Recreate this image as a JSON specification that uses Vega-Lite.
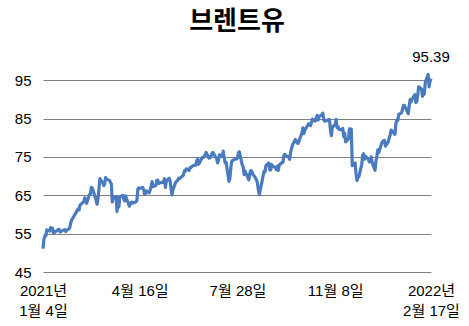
{
  "$schema": "https://vega.github.io/schema/vega-lite/v6.json",
  "width": 388,
  "height": 211,
  "autosize": "none",
  "padding": {"left": 43, "top": 61, "right": 38, "bottom": 54},
  "background": "white",
  "title": {"text": "브렌트유", "font": "Noto Sans CJK KR", "fontSize": 26, "fontWeight": "bold", "color": "#000", "anchor": "middle", "frame": "group", "offset": 15},
  "config": {"view": {"stroke": null}, "font": "Liberation Sans"},
  "data": {"values": [
    {"date": "2021-01-04", "price": 51.09}, {"date": "2021-01-05", "price": 53.60}, {"date": "2021-01-06", "price": 54.30}, {"date": "2021-01-07", "price": 54.38}, {"date": "2021-01-08", "price": 55.99},
    {"date": "2021-01-11", "price": 55.66}, {"date": "2021-01-12", "price": 56.58}, {"date": "2021-01-13", "price": 56.06}, {"date": "2021-01-14", "price": 56.42}, {"date": "2021-01-15", "price": 55.10},
    {"date": "2021-01-19", "price": 55.90}, {"date": "2021-01-20", "price": 56.08}, {"date": "2021-01-21", "price": 56.10}, {"date": "2021-01-22", "price": 55.41}, {"date": "2021-01-25", "price": 55.88},
    {"date": "2021-01-26", "price": 55.91}, {"date": "2021-01-27", "price": 56.01}, {"date": "2021-01-28", "price": 55.53}, {"date": "2021-01-29", "price": 55.88}, {"date": "2021-02-01", "price": 56.35},
    {"date": "2021-02-02", "price": 57.46}, {"date": "2021-02-03", "price": 58.46}, {"date": "2021-02-04", "price": 58.84}, {"date": "2021-02-05", "price": 59.34}, {"date": "2021-02-08", "price": 60.56},
    {"date": "2021-02-09", "price": 61.09}, {"date": "2021-02-10", "price": 61.47}, {"date": "2021-02-11", "price": 61.14}, {"date": "2021-02-12", "price": 62.43}, {"date": "2021-02-16", "price": 63.35},
    {"date": "2021-02-17", "price": 64.34}, {"date": "2021-02-18", "price": 63.93}, {"date": "2021-02-19", "price": 62.91}, {"date": "2021-02-22", "price": 65.24}, {"date": "2021-02-23", "price": 65.37},
    {"date": "2021-02-24", "price": 67.04}, {"date": "2021-02-25", "price": 66.88}, {"date": "2021-02-26", "price": 66.13}, {"date": "2021-03-01", "price": 63.69}, {"date": "2021-03-02", "price": 62.70},
    {"date": "2021-03-03", "price": 64.07}, {"date": "2021-03-04", "price": 66.74}, {"date": "2021-03-05", "price": 69.36}, {"date": "2021-03-08", "price": 68.24}, {"date": "2021-03-09", "price": 67.52},
    {"date": "2021-03-10", "price": 67.90}, {"date": "2021-03-11", "price": 69.63}, {"date": "2021-03-12", "price": 69.22}, {"date": "2021-03-15", "price": 68.88}, {"date": "2021-03-16", "price": 68.39},
    {"date": "2021-03-17", "price": 68.00}, {"date": "2021-03-18", "price": 63.28}, {"date": "2021-03-19", "price": 64.53}, {"date": "2021-03-22", "price": 64.62}, {"date": "2021-03-23", "price": 60.79},
    {"date": "2021-03-24", "price": 64.41}, {"date": "2021-03-25", "price": 61.95}, {"date": "2021-03-26", "price": 64.57}, {"date": "2021-03-29", "price": 64.98}, {"date": "2021-03-30", "price": 64.14},
    {"date": "2021-03-31", "price": 63.54}, {"date": "2021-04-01", "price": 64.86}, {"date": "2021-04-05", "price": 62.15}, {"date": "2021-04-06", "price": 62.74}, {"date": "2021-04-07", "price": 63.16},
    {"date": "2021-04-08", "price": 63.20}, {"date": "2021-04-09", "price": 62.95}, {"date": "2021-04-12", "price": 63.28}, {"date": "2021-04-13", "price": 63.67}, {"date": "2021-04-14", "price": 66.58},
    {"date": "2021-04-15", "price": 66.94}, {"date": "2021-04-16", "price": 66.77}, {"date": "2021-04-19", "price": 67.05}, {"date": "2021-04-20", "price": 66.57}, {"date": "2021-04-21", "price": 65.32},
    {"date": "2021-04-22", "price": 65.40}, {"date": "2021-04-23", "price": 66.11}, {"date": "2021-04-26", "price": 65.65}, {"date": "2021-04-27", "price": 66.42}, {"date": "2021-04-28", "price": 67.27},
    {"date": "2021-04-29", "price": 68.56}, {"date": "2021-04-30", "price": 67.25}, {"date": "2021-05-03", "price": 67.56}, {"date": "2021-05-04", "price": 68.88}, {"date": "2021-05-05", "price": 68.96},
    {"date": "2021-05-06", "price": 68.09}, {"date": "2021-05-07", "price": 68.28}, {"date": "2021-05-10", "price": 68.32}, {"date": "2021-05-11", "price": 68.55}, {"date": "2021-05-12", "price": 69.32},
    {"date": "2021-05-13", "price": 67.05}, {"date": "2021-05-14", "price": 68.71}, {"date": "2021-05-17", "price": 69.46}, {"date": "2021-05-18", "price": 68.71}, {"date": "2021-05-19", "price": 66.66},
    {"date": "2021-05-20", "price": 65.11}, {"date": "2021-05-21", "price": 66.44}, {"date": "2021-05-24", "price": 68.46}, {"date": "2021-05-25", "price": 68.65}, {"date": "2021-05-26", "price": 68.87},
    {"date": "2021-05-27", "price": 69.46}, {"date": "2021-05-28", "price": 69.32}, {"date": "2021-06-01", "price": 70.25}, {"date": "2021-06-02", "price": 71.35}, {"date": "2021-06-03", "price": 71.31},
    {"date": "2021-06-04", "price": 71.89}, {"date": "2021-06-07", "price": 71.49}, {"date": "2021-06-08", "price": 72.22}, {"date": "2021-06-09", "price": 72.22}, {"date": "2021-06-10", "price": 72.52},
    {"date": "2021-06-11", "price": 72.69}, {"date": "2021-06-14", "price": 72.86}, {"date": "2021-06-15", "price": 73.99}, {"date": "2021-06-16", "price": 74.39}, {"date": "2021-06-17", "price": 73.08},
    {"date": "2021-06-18", "price": 73.51}, {"date": "2021-06-21", "price": 74.90}, {"date": "2021-06-22", "price": 74.81}, {"date": "2021-06-23", "price": 75.19}, {"date": "2021-06-24", "price": 75.56},
    {"date": "2021-06-25", "price": 76.18}, {"date": "2021-06-28", "price": 74.68}, {"date": "2021-06-29", "price": 74.76}, {"date": "2021-06-30", "price": 75.13}, {"date": "2021-07-01", "price": 75.84},
    {"date": "2021-07-02", "price": 76.17}, {"date": "2021-07-06", "price": 74.53}, {"date": "2021-07-07", "price": 73.43}, {"date": "2021-07-08", "price": 74.12}, {"date": "2021-07-09", "price": 75.55},
    {"date": "2021-07-12", "price": 75.16}, {"date": "2021-07-13", "price": 76.49}, {"date": "2021-07-14", "price": 74.76}, {"date": "2021-07-15", "price": 73.47}, {"date": "2021-07-16", "price": 73.59},
    {"date": "2021-07-19", "price": 68.62}, {"date": "2021-07-20", "price": 69.35}, {"date": "2021-07-21", "price": 72.23}, {"date": "2021-07-22", "price": 73.79}, {"date": "2021-07-23", "price": 74.10},
    {"date": "2021-07-26", "price": 74.50}, {"date": "2021-07-27", "price": 74.48}, {"date": "2021-07-28", "price": 74.74}, {"date": "2021-07-29", "price": 76.05}, {"date": "2021-07-30", "price": 76.33},
    {"date": "2021-08-02", "price": 72.89}, {"date": "2021-08-03", "price": 72.41}, {"date": "2021-08-04", "price": 70.38}, {"date": "2021-08-05", "price": 71.29}, {"date": "2021-08-06", "price": 70.70},
    {"date": "2021-08-09", "price": 69.04}, {"date": "2021-08-10", "price": 70.63}, {"date": "2021-08-11", "price": 71.44}, {"date": "2021-08-12", "price": 71.31}, {"date": "2021-08-13", "price": 70.59},
    {"date": "2021-08-16", "price": 69.51}, {"date": "2021-08-17", "price": 69.03}, {"date": "2021-08-18", "price": 68.23}, {"date": "2021-08-19", "price": 66.45}, {"date": "2021-08-20", "price": 65.18},
    {"date": "2021-08-23", "price": 68.75}, {"date": "2021-08-24", "price": 70.05}, {"date": "2021-08-25", "price": 71.25}, {"date": "2021-08-26", "price": 71.07}, {"date": "2021-08-27", "price": 72.70},
    {"date": "2021-08-30", "price": 73.41}, {"date": "2021-08-31", "price": 71.63}, {"date": "2021-09-01", "price": 71.59}, {"date": "2021-09-02", "price": 73.03}, {"date": "2021-09-03", "price": 72.61},
    {"date": "2021-09-06", "price": 72.22}, {"date": "2021-09-07", "price": 71.69}, {"date": "2021-09-08", "price": 72.60}, {"date": "2021-09-09", "price": 71.45}, {"date": "2021-09-10", "price": 72.92},
    {"date": "2021-09-13", "price": 73.51}, {"date": "2021-09-14", "price": 73.60}, {"date": "2021-09-15", "price": 75.46}, {"date": "2021-09-16", "price": 75.67}, {"date": "2021-09-17", "price": 75.34},
    {"date": "2021-09-20", "price": 74.92}, {"date": "2021-09-21", "price": 74.36}, {"date": "2021-09-22", "price": 76.19}, {"date": "2021-09-23", "price": 77.25}, {"date": "2021-09-24", "price": 78.09},
    {"date": "2021-09-27", "price": 79.53}, {"date": "2021-09-28", "price": 79.09}, {"date": "2021-09-29", "price": 78.64}, {"date": "2021-09-30", "price": 78.52}, {"date": "2021-10-01", "price": 79.28},
    {"date": "2021-10-04", "price": 81.26}, {"date": "2021-10-05", "price": 82.56}, {"date": "2021-10-06", "price": 81.08}, {"date": "2021-10-07", "price": 81.95}, {"date": "2021-10-08", "price": 82.39},
    {"date": "2021-10-11", "price": 83.65}, {"date": "2021-10-12", "price": 83.42}, {"date": "2021-10-13", "price": 83.18}, {"date": "2021-10-14", "price": 84.00}, {"date": "2021-10-15", "price": 84.86},
    {"date": "2021-10-18", "price": 84.33}, {"date": "2021-10-19", "price": 85.08}, {"date": "2021-10-20", "price": 85.82}, {"date": "2021-10-21", "price": 84.61}, {"date": "2021-10-22", "price": 85.53},
    {"date": "2021-10-25", "price": 85.99}, {"date": "2021-10-26", "price": 86.40}, {"date": "2021-10-27", "price": 84.58}, {"date": "2021-10-28", "price": 84.32}, {"date": "2021-10-29", "price": 84.38},
    {"date": "2021-11-01", "price": 84.71}, {"date": "2021-11-02", "price": 84.72}, {"date": "2021-11-03", "price": 81.99}, {"date": "2021-11-04", "price": 80.54}, {"date": "2021-11-05", "price": 82.74},
    {"date": "2021-11-08", "price": 83.43}, {"date": "2021-11-09", "price": 84.78}, {"date": "2021-11-10", "price": 82.64}, {"date": "2021-11-11", "price": 82.87}, {"date": "2021-11-12", "price": 82.17},
    {"date": "2021-11-15", "price": 82.05}, {"date": "2021-11-16", "price": 82.43}, {"date": "2021-11-17", "price": 80.28}, {"date": "2021-11-18", "price": 81.24}, {"date": "2021-11-19", "price": 78.89},
    {"date": "2021-11-22", "price": 79.70}, {"date": "2021-11-23", "price": 82.31}, {"date": "2021-11-24", "price": 82.25}, {"date": "2021-11-25", "price": 82.22}, {"date": "2021-11-26", "price": 72.72},
    {"date": "2021-11-29", "price": 73.44}, {"date": "2021-11-30", "price": 70.57}, {"date": "2021-12-01", "price": 68.87}, {"date": "2021-12-02", "price": 69.67}, {"date": "2021-12-03", "price": 69.88},
    {"date": "2021-12-06", "price": 73.08}, {"date": "2021-12-07", "price": 75.44}, {"date": "2021-12-08", "price": 75.82}, {"date": "2021-12-09", "price": 74.42}, {"date": "2021-12-10", "price": 75.15},
    {"date": "2021-12-13", "price": 74.39}, {"date": "2021-12-14", "price": 73.70}, {"date": "2021-12-15", "price": 73.88}, {"date": "2021-12-16", "price": 75.02}, {"date": "2021-12-17", "price": 73.52},
    {"date": "2021-12-20", "price": 71.52}, {"date": "2021-12-21", "price": 73.98}, {"date": "2021-12-22", "price": 75.29}, {"date": "2021-12-23", "price": 76.85}, {"date": "2021-12-24", "price": 76.14},
    {"date": "2021-12-27", "price": 78.60}, {"date": "2021-12-28", "price": 78.94}, {"date": "2021-12-29", "price": 79.23}, {"date": "2021-12-30", "price": 79.32}, {"date": "2021-12-31", "price": 77.78},
    {"date": "2022-01-03", "price": 78.98}, {"date": "2022-01-04", "price": 80.00}, {"date": "2022-01-05", "price": 80.80}, {"date": "2022-01-06", "price": 81.99}, {"date": "2022-01-07", "price": 81.75},
    {"date": "2022-01-10", "price": 80.87}, {"date": "2022-01-11", "price": 83.72}, {"date": "2022-01-12", "price": 84.67}, {"date": "2022-01-13", "price": 84.47}, {"date": "2022-01-14", "price": 86.06},
    {"date": "2022-01-17", "price": 86.48}, {"date": "2022-01-18", "price": 87.51}, {"date": "2022-01-19", "price": 88.44}, {"date": "2022-01-20", "price": 88.38}, {"date": "2022-01-21", "price": 87.89},
    {"date": "2022-01-24", "price": 86.27}, {"date": "2022-01-25", "price": 88.20}, {"date": "2022-01-26", "price": 89.96}, {"date": "2022-01-27", "price": 89.34}, {"date": "2022-01-28", "price": 90.03},
    {"date": "2022-01-31", "price": 91.21}, {"date": "2022-02-01", "price": 89.16}, {"date": "2022-02-02", "price": 89.47}, {"date": "2022-02-03", "price": 91.11}, {"date": "2022-02-04", "price": 93.27},
    {"date": "2022-02-07", "price": 92.69}, {"date": "2022-02-08", "price": 90.78}, {"date": "2022-02-09", "price": 91.55}, {"date": "2022-02-10", "price": 91.41}, {"date": "2022-02-11", "price": 94.44},
    {"date": "2022-02-14", "price": 96.48}, {"date": "2022-02-15", "price": 93.28}, {"date": "2022-02-16", "price": 94.81}, {"date": "2022-02-17", "price": 95.39}
  ]},
  "encoding": {
    "x": {
      "field": "date", "type": "temporal",
      "scale": {"type": "utc", "domain": [{"year": 2021, "month": 1, "date": 4, "utc": true}, {"year": 2022, "month": 2, "date": 17, "utc": true}]},
      "axis": {
        "title": null, "domain": false, "ticks": false, "grid": false,
        "values": [
          {"year": 2021, "month": 1, "date": 4, "utc": true},
          {"year": 2021, "month": 4, "date": 16, "utc": true},
          {"year": 2021, "month": 7, "date": 28, "utc": true},
          {"year": 2021, "month": 11, "date": 8, "utc": true},
          {"year": 2022, "month": 2, "date": 17, "utc": true}
        ],
        "labelExpr": "utcFormat(datum.value, '%m-%d') == '01-04' ? ['2021년', '1월 4일'] : (utcFormat(datum.value, '%m-%d') == '02-17' ? ['2022년', '2월 17일'] : utcFormat(datum.value, '%-m월 %-d일'))",
        "labelFont": "Liberation Sans, Noto Sans CJK KR",
        "labelFontSize": 15,
        "labelColor": "#000",
        "labelPadding": 11,
        "labelLineHeight": 20,
        "labelOverlap": false,
        "labelBound": false,
        "labelFlush": false,
        "labelAlign": "center",
        "labelBaseline": "top"
      }
    },
    "y": {
      "field": "price", "type": "quantitative",
      "scale": {"domain": [45, 100], "nice": false, "zero": false},
      "axis": {
        "title": null, "domain": false, "ticks": false,
        "values": [45, 55, 65, 75, 85, 95],
        "gridColor": "#808080", "gridWidth": 1, "gridOpacity": 1,
        "labelFont": "Liberation Sans", "labelFontSize": 15, "labelColor": "#000",
        "labelPadding": 12
      }
    }
  },
  "layer": [
    {"mark": {"type": "line", "color": "#4a7bbf", "strokeWidth": 3.2, "strokeJoin": "round", "clip": false}},
    {
      "transform": [{"filter": "datum.price == 95.39"}],
      "mark": {"type": "text", "font": "Liberation Sans", "fontSize": 15, "color": "#000", "dy": -22, "align": "center", "baseline": "middle"},
      "encoding": {"text": {"field": "price", "type": "quantitative", "format": ".2f"}}
    }
  ]
}
